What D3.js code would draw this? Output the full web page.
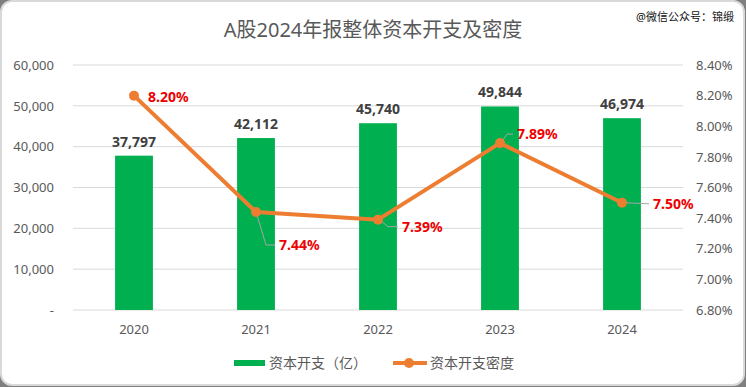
<!DOCTYPE html>
<html>
<head>
<meta charset="utf-8">
<script src="https://cdn.jsdelivr.net/npm/d3@7"></script>
<style>
  body { margin: 0; background: #fff; }
  text { font-family: "Noto Sans", "Noto Sans CJK SC", sans-serif; }
</style>
</head>
<body>
<div id="chart"></div>
<script>
// data
const years = ["2020", "2021", "2022", "2023", "2024"];
const capex = [37797, 42112, 45740, 49844, 46974];
const density = [8.20, 7.44, 7.39, 7.89, 7.50];
const leftTicks = [0, 10000, 20000, 30000, 40000, 50000, 60000];
const rightTicks = [6.8, 7.0, 7.2, 7.4, 7.6, 7.8, 8.0, 8.2, 8.4];

const width = 746, height = 387;
const margin = { top: 65, right: 63, bottom: 77, left: 73 };

const svg = d3.select("#chart")
  .append("svg")
  .attr("width", width)
  .attr("height", height);

// background + rounded frame
svg.append("rect").attr("width", width).attr("height", height).attr("fill", "#7f7f7f");
svg.append("rect")
  .attr("x", 1).attr("y", 1)
  .attr("width", width - 3).attr("height", height - 3)
  .attr("rx", 11)
  .attr("fill", "#fff")
  .attr("stroke", "#d9d9d9")
  .attr("stroke-width", 2);

// title
svg.append("text")
  .attr("x", 373).attr("y", 37)
  .attr("text-anchor", "middle")
  .attr("font-family", "Noto Sans CJK SC")
  .attr("font-size", 20)
  .attr("fill", "#595959")
  .text("A股2024年报整体资本开支及密度");

// watermark
svg.append("text")
  .attr("x", 734).attr("y", 21)
  .attr("text-anchor", "end")
  .attr("font-family", "Noto Sans CJK SC")
  .attr("font-size", 11)
  .attr("fill", "#111")
  .text("@微信公众号：锦缎");

const xScale = d3.scaleBand()
  .domain(years)
  .range([margin.left, width - margin.right])
  .paddingInner(0.69)
  .paddingOuter(0.345);

const yLeft = d3.scaleLinear()
  .domain([0, 60000])
  .range([height - margin.bottom, margin.top]);

const yRight = d3.scaleLinear()
  .domain([6.8, 8.4])
  .range([height - margin.bottom, margin.top]);

// gridlines
svg.append("g")
  .selectAll("line")
  .data(leftTicks)
  .join("line")
  .attr("x1", margin.left)
  .attr("x2", width - margin.right)
  .attr("y1", d => yLeft(d))
  .attr("y2", d => yLeft(d))
  .attr("stroke", "#d9d9d9")
  .attr("stroke-width", 1);

// left axis
const leftAxis = svg.append("g")
  .attr("transform", `translate(${margin.left - 16},0)`)
  .call(d3.axisLeft(yLeft).tickValues(leftTicks).tickSize(0)
    .tickFormat(d => d === 0 ? "-" : d3.format(",")(d)));
leftAxis.select(".domain").remove();
leftAxis.selectAll("text")
  .attr("font-size", 13)
  .attr("fill", "#595959")
  .attr("font-family", "Noto Sans");

// right axis
const rightAxis = svg.append("g")
  .attr("transform", `translate(${width - margin.right + 10},0)`)
  .call(d3.axisRight(yRight).tickValues(rightTicks).tickSize(0)
    .tickFormat(d => d.toFixed(2) + "%"));
rightAxis.select(".domain").remove();
rightAxis.selectAll("text")
  .attr("font-size", 13)
  .attr("fill", "#595959")
  .attr("font-family", "Noto Sans");

// x axis
const xAxis = svg.append("g")
  .attr("transform", `translate(0,${height - margin.bottom + 12})`)
  .call(d3.axisBottom(xScale).tickSize(0));
xAxis.select(".domain").remove();
xAxis.selectAll("text")
  .attr("font-size", 13)
  .attr("fill", "#595959")
  .attr("font-family", "Noto Sans");

// bars
svg.append("g")
  .selectAll("rect")
  .data(capex)
  .join("rect")
  .attr("x", (d, i) => xScale(years[i]))
  .attr("y", d => yLeft(d))
  .attr("width", xScale.bandwidth())
  .attr("height", d => yLeft(0) - yLeft(d))
  .attr("fill", "#00b050");

// bar labels
svg.append("g")
  .selectAll("text")
  .data(capex)
  .join("text")
  .attr("x", (d, i) => xScale(years[i]) + xScale.bandwidth() / 2)
  .attr("y", d => yLeft(d) - 9)
  .attr("text-anchor", "middle")
  .attr("font-size", 14)
  .attr("font-weight", "bold")
  .attr("fill", "#404040")
  .text(d => d3.format(",")(d));

const cx = i => xScale(years[i]) + xScale.bandwidth() / 2;

// line
const line = d3.line()
  .x((d, i) => cx(i))
  .y(d => yRight(d));

svg.append("path")
  .datum(density)
  .attr("d", line)
  .attr("fill", "none")
  .attr("stroke", "#ed7d31")
  .attr("stroke-width", 4)
  .attr("stroke-linejoin", "round");

// label placement relative to point: [dx, dy] of label start, leader path
const labelPos = [
  { dx: 14, dy: 1, leader: null },
  { dx: 23, dy: 33, leader: [[1, 3], [10, 33], [19, 33]] },
  { dx: 24, dy: 7, leader: [[4, 2], [10, 7], [20, 7]] },
  { dx: 17, dy: -9, leader: [[3, -3], [7, -9], [13, -9]] },
  { dx: 31, dy: 1, leader: [[5, 0], [27, 1]] }
];

svg.append("g")
  .selectAll("path")
  .data(labelPos.filter(p => p.leader))
  .join("path")
  .attr("d", p => {
    const i = labelPos.indexOf(p);
    return d3.line()(p.leader.map(q => [cx(i) + q[0], yRight(density[i]) + q[1]]));
  })
  .attr("fill", "none")
  .attr("stroke", "#a6a6a6")
  .attr("stroke-width", 1);

svg.append("g")
  .selectAll("circle")
  .data(density)
  .join("circle")
  .attr("cx", (d, i) => cx(i))
  .attr("cy", d => yRight(d))
  .attr("r", 5)
  .attr("fill", "#ed7d31");

svg.append("g")
  .selectAll("text")
  .data(density)
  .join("text")
  .attr("x", (d, i) => cx(i) + labelPos[i].dx)
  .attr("y", (d, i) => yRight(d) + labelPos[i].dy)
  .attr("dy", "0.35em")
  .attr("font-size", 14)
  .attr("font-weight", "bold")
  .attr("fill", "#ee0000")
  .text(d => d.toFixed(2) + "%");

// legend
const legend = svg.append("g").attr("transform", "translate(0,363)");
legend.append("rect")
  .attr("x", 234).attr("y", -3)
  .attr("width", 31).attr("height", 6)
  .attr("fill", "#00b050");
legend.append("text")
  .attr("x", 269).attr("y", 0).attr("dy", "0.35em")
  .attr("font-family", "Noto Sans CJK SC")
  .attr("font-size", 14)
  .attr("fill", "#595959")
  .text("资本开支（亿）");
legend.append("line")
  .attr("x1", 393).attr("x2", 427)
  .attr("y1", 0).attr("y2", 0)
  .attr("stroke", "#ed7d31").attr("stroke-width", 4);
legend.append("circle")
  .attr("cx", 409).attr("cy", 0).attr("r", 5)
  .attr("fill", "#ed7d31");
legend.append("text")
  .attr("x", 430).attr("y", 0).attr("dy", "0.35em")
  .attr("font-family", "Noto Sans CJK SC")
  .attr("font-size", 14)
  .attr("fill", "#595959")
  .text("资本开支密度");
</script>
</body>
</html>
